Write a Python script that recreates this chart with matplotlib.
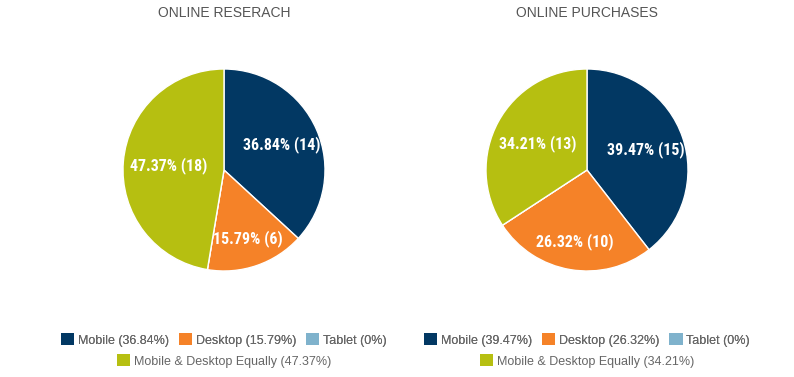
import matplotlib.pyplot as plt
import numpy as np
from matplotlib.patches import Patch

# data
categories = ["Mobile", "Desktop", "Tablet", "Mobile & Desktop Equally"]
research_counts = [14, 6, 0, 18]
purchase_counts = [15, 10, 0, 13]
titles = ["ONLINE RESERACH", "ONLINE PURCHASES"]
colors = ["#023863", "#F58228", "#7FB2CC", "#B6BF11"]

plt.rcParams['font.family'] = ['Liberation Sans', 'DejaVu Sans']

W, H = 794, 377
fig = plt.figure(figsize=(W / 100, H / 100), dpi=100)

centers = [224, 587]
R = 101
label_dist = [0.62, 0.72, 0.6, 0.55]


def fmt(v):
    s = "%.2f" % v
    return s.rstrip("0").rstrip(".") if v == 0 else s


def draw_pie(cx, counts, title):
    ax = fig.add_axes([(cx - R) / W, (H - 170 - R) / H, 2 * R / W, 2 * R / H])
    total = sum(counts)
    pct = [c / total * 100 for c in counts]
    wedges, _ = ax.pie(counts, colors=colors, startangle=90, counterclock=False,
                       wedgeprops=dict(edgecolor="white", linewidth=1))
    for w, c, p, d in zip(wedges, counts, pct, label_dist):
        if c == 0:
            continue
        ang = np.deg2rad((w.theta1 + w.theta2) / 2)
        ax.text(d * np.cos(ang), d * np.sin(ang), "%.2f%% (%d)" % (p, c),
                ha="center", va="center", color="white", fontsize=11.5,
                fontweight="bold", fontstretch="condensed",
                family=["DejaVu Sans Condensed", "Liberation Sans Narrow",
                        "Roboto Condensed", "DejaVu Sans"])
    ax.set_xlim(-1, 1)
    ax.set_ylim(-1, 1)
    ax.set_aspect("equal")
    ax.axis("off")
    fig.text(cx / W, 1 - 13 / H, title, ha="center", va="center",
             fontsize=10, color="#555555")

    labels = ["%s (%s%%)" % (n, fmt(p)) for n, p in zip(categories, pct)]
    handles = [Patch(facecolor=col, edgecolor="none") for col in colors]
    kw = dict(frameon=False, fontsize=9, labelcolor="#666666",
              handlelength=1.05, handleheight=1.05, handletextpad=0.3,
              columnspacing=0.8, borderpad=0, loc="center")
    leg1 = fig.legend(handles[:3], labels[:3], ncol=3,
                      bbox_to_anchor=(cx / W, 1 - 340 / H), **kw)
    fig.legend(handles[3:], labels[3:], ncol=1,
               bbox_to_anchor=(cx / W, 1 - 361 / H), **kw)
    fig.add_artist(leg1)


draw_pie(centers[0], research_counts, titles[0])
draw_pie(centers[1], purchase_counts, titles[1])

fig.savefig("out.png", dpi=100)
